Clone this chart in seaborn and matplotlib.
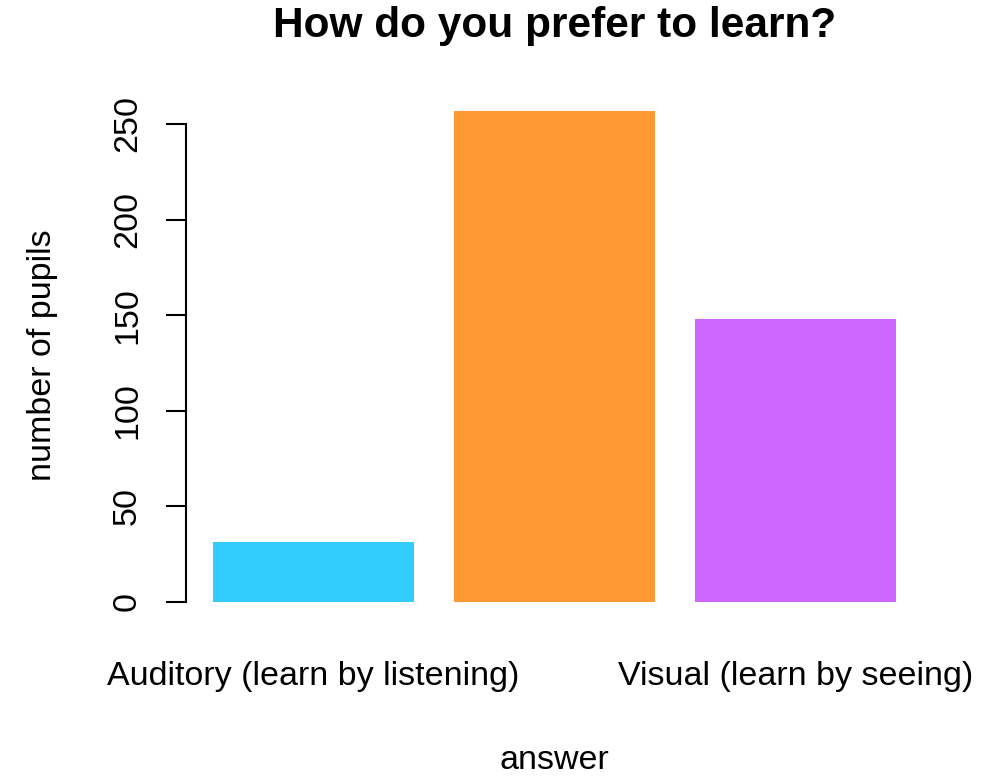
import matplotlib
matplotlib.use("Agg")
import matplotlib.pyplot as plt
import seaborn as sns
import pandas as pd

answers = ["Auditory (learn by listening)", "Kinesthetic (learn by doing)", "Visual (learn by seeing)"]
shown_labels = ["Auditory (learn by listening)", "", "Visual (learn by seeing)"]
pupils = [31, 257, 148]
colors = ["#33CCFF", "#FF9933", "#CC66FF"]
yticks = [0, 50, 100, 150, 200, 250]

sns.set_style("white")
plt.rcParams["font.family"] = ["Liberation Sans", "DejaVu Sans"]

df = pd.DataFrame({"answer": answers, "pupils": pupils})

W, H = 982, 777
left, right, top, bottom = 186, 923, 89, 621.4
axh = bottom - top
fig = plt.figure(figsize=(W / 100, H / 100), dpi=100)
ax = fig.add_axes([left / W, 1 - bottom / H, (right - left) / W, axh / H])

sns.barplot(data=df, x="answer", y="pupils", hue="answer", palette=colors,
            width=1/1.2, saturation=1, legend=False, ax=ax, edgecolor="none")

ax.set_xlim(-0.529, 2.529)
ax.set_ylim(-10.3, 268.3)

for s in ["top", "right", "bottom"]:
    ax.spines[s].set_visible(False)
ax.spines["left"].set_bounds(0, 250)
ax.spines["left"].set_color("black")
ax.spines["left"].set_linewidth(1.5)

fs = 24.5
ax.set_yticks(yticks)
ax.set_yticklabels([str(v) for v in yticks], rotation=90, va="center", fontsize=fs, color="black")
ax.tick_params(axis="y", length=14.5, width=1.5, color="black", pad=16.5, left=True)
ax.set_xticks(range(len(answers)))
ax.set_xticklabels(shown_labels, fontsize=fs, va="baseline", color="black")
ax.tick_params(axis="x", length=0, pad=(685 - bottom) / 1.389)

ax.set_xlabel("answer", fontsize=fs, color="black")
ax.set_ylabel("number of pupils", fontsize=fs, color="black")
ax.xaxis.label.set_va("baseline")
ax.xaxis.set_label_coords(0.5, -(769 - bottom) / axh)
ax.yaxis.label.set_va("baseline")
ax.yaxis.set_label_coords((51 - left) / (right - left), 0.5)

ax.set_title("How do you prefer to learn?", fontsize=30.5, fontweight="bold",
             color="black", y=1 + (top - 37) / axh, va="baseline", pad=0)

fig.savefig("out.png", dpi=100, facecolor="white")
